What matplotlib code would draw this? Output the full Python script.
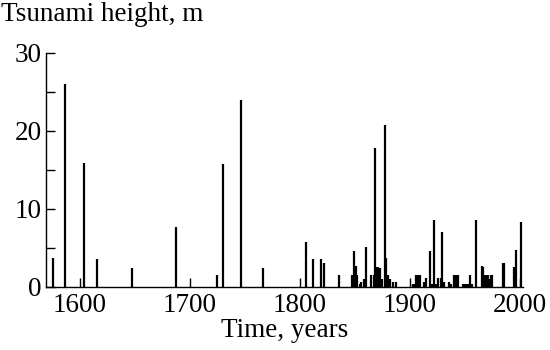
import matplotlib
matplotlib.use('Agg')
import matplotlib.pyplot as plt

plt.rcParams['font.family'] = ['Liberation Serif', 'DejaVu Serif']

years = [1575, 1586, 1604, 1615, 1647, 1687, 1725, 1730, 1746, 1766,
         1806, 1812, 1819, 1822, 1836, 1847, 1849, 1851, 1852, 1855,
         1856, 1858, 1860, 1865, 1867, 1868, 1869, 1871, 1873, 1875,
         1877, 1878, 1880, 1882, 1885, 1887, 1903, 1904, 1906, 1907,
         1908, 1909, 1913, 1914, 1915, 1918, 1920, 1922, 1924, 1926,
         1928, 1929, 1931, 1936, 1937, 1940, 1941, 1942, 1943, 1944,
         1948, 1950, 1952, 1953, 1955, 1957, 1960, 1966, 1967, 1968,
         1970, 1971, 1973, 1974, 1975, 1985, 1986, 1995, 1997, 2001]
heights = [3.7, 26.0, 15.9, 3.6, 2.4, 7.7, 1.6, 15.7, 23.9, 2.4,
           5.7, 3.6, 3.6, 3.1, 1.6, 1.6, 4.6, 2.7, 1.6, 0.4,
           0.6, 1.0, 5.1, 1.6, 1.6, 17.8, 2.6, 2.6, 2.4, 1.0,
           20.8, 3.7, 1.6, 1.0, 0.6, 0.6, 0.4, 0.4, 1.6, 1.6,
           1.6, 1.6, 0.6, 0.6, 1.1, 4.6, 0.4, 8.6, 0.4, 1.1,
           1.1, 7.1, 0.6, 0.6, 0.4, 1.6, 1.6, 1.6, 1.6, 1.6,
           0.4, 0.4, 0.4, 0.4, 1.6, 0.4, 8.6, 2.7, 2.5, 1.6,
           1.5, 1.5, 1.0, 1.5, 1.5, 3.1, 3.1, 2.5, 4.7, 8.3]

xticks = [1600, 1700, 1800, 1900, 2000]
yticks = [0, 10, 20, 30]
yminor = [5, 15, 25]

fig = plt.figure(figsize=(5.5, 3.5), dpi=100)
ax = fig.add_axes([0.0836, 0.18, 0.8674, 0.6694])

ax.vlines(years, 0, heights, colors='black', linewidth=1.6)

ax.set_xlim(1569, 2003)
ax.set_ylim(0, 30)
ax.set_xticks(xticks)
ax.set_yticks(yticks)
ax.set_yticks(yminor, minor=True)
for s in ['top', 'right']:
    ax.spines[s].set_visible(False)
for s in ['left', 'bottom']:
    ax.spines[s].set_linewidth(1.0)
ax.tick_params(axis='both', which='both', direction='in', length=6.5,
               width=1.0, labelsize=19.5)
ax.tick_params(axis='y', pad=3)
ax.tick_params(axis='x', pad=4)

ax.set_xlabel('Time, years', fontsize=19.5, labelpad=0)
fig.text(0.002, 0.995, 'Tsunami height, m', fontsize=19.5, ha='left', va='top')

fig.savefig('out.png', dpi=100)
